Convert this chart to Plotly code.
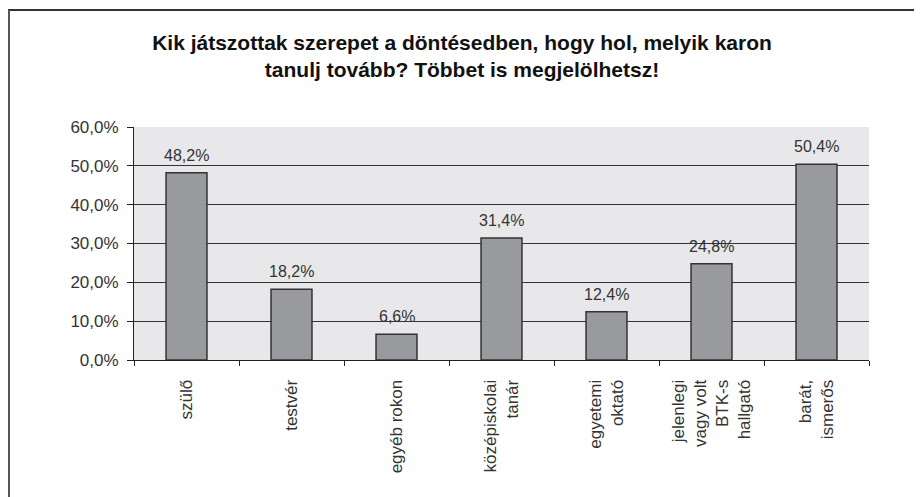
import plotly.graph_objects as go

categories = ["szülő", "testvér", "egyéb rokon", "középiskolai<br>tanár",
              "egyetemi<br>oktató", "jelenlegi<br>vagy volt<br>BTK-s<br>hallgató",
              "barát,<br>ismerős"]
values = [48.2, 18.2, 6.6, 31.4, 12.4, 24.8, 50.4]
value_labels = ["48,2%", "18,2%", "6,6%", "31,4%", "12,4%", "24,8%", "50,4%"]
y_ticks = [0, 10, 20, 30, 40, 50, 60]
y_tick_labels = ["0,0%", "10,0%", "20,0%", "30,0%", "40,0%", "50,0%", "60,0%"]

# page has an 8px body margin, so the figure is drawn 8px smaller
W, H = 914, 489
L, R, T, B = 126, 53, 119, 137
pw, ph = W - L - R, H - T - B

def px_x(x):
    return (x - L) / pw

def px_y(y):
    return (H - B - y) / ph

FONT = "Arial"

fig = go.Figure()
fig.add_trace(go.Bar(
    x=categories, y=values,
    marker=dict(color="#999a9e", line=dict(color="#333333", width=1.5)),
    cliponaxis=False,
))

annotations = [
    dict(x=c, y=v, xref="x", yref="y", text=t, showarrow=False,
         yanchor="bottom", yshift=7,
         font=dict(family=FONT, size=16, color="#333333"))
    for c, v, t in zip(categories, values, value_labels)
]

fig.update_layout(
    width=W, height=H,
    margin=dict(l=L, r=R, t=T, b=B),
    paper_bgcolor="white",
    plot_bgcolor="#e8e8ea",
    separators=",.",
    bargap=0.61,
    showlegend=False,
    annotations=annotations,
    title=dict(
        text="<b>Kik játszottak szerepet a döntésedben, hogy hol, melyik karon<br>tanulj tovább? Többet is megjelölhetsz!</b>",
        x=454 / W, xref="container", xanchor="center",
        y=1 - 42 / H, yanchor="top",
        font=dict(family=FONT, size=21, color="#111111"),
    ),
    xaxis=dict(
        tickangle=-90, tickson="boundaries", ticks="outside", ticklen=5,
        tickcolor="#222222", showline=True, linecolor="#222222", linewidth=1,
        tickfont=dict(family=FONT, size=17, color="#333333"),
        ticklabelstandoff=12,
        showgrid=False,
    ),
    yaxis=dict(
        range=[0, 60], tickvals=y_ticks, ticktext=y_tick_labels,
        ticks="outside", ticklen=6, tickcolor="#222222",
        showline=True, linecolor="#222222", linewidth=1,
        showgrid=True, gridcolor="#333333", gridwidth=1,
        zeroline=False, ticklabelstandoff=5,
        tickfont=dict(family=FONT, size=17, color="#333333"),
    ),
    shapes=[
        dict(type="line", xref="paper", yref="paper",
             x0=px_x(0), x1=px_x(W + 5), y0=px_y(2), y1=px_y(2),
             line=dict(color="#333333", width=2)),
        dict(type="line", xref="paper", yref="paper",
             x0=px_x(1), x1=px_x(1), y0=px_y(2), y1=px_y(H + 5),
             line=dict(color="#555555", width=2)),
    ],
)

fig.write_html("out.html")
